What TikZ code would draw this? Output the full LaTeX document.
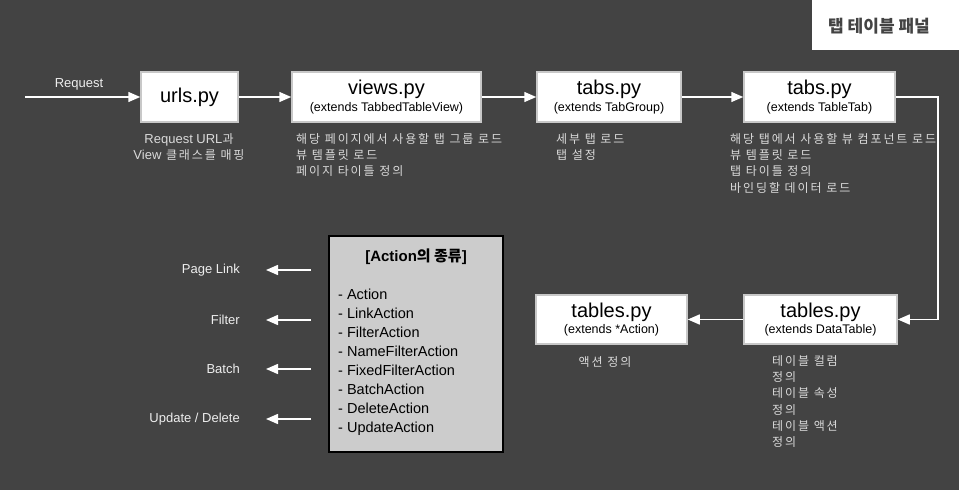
\documentclass[tikz,border=0pt]{standalone}
\usepackage{fontspec}
\setmainfont{Liberation Sans}
\newfontfamily\kr{Noto Sans CJK KR}
\newfontfamily\krw[LetterSpace=16]{Noto Sans CJK KR}
\usetikzlibrary{arrows.meta}
\definecolor{bg}{HTML}{434343}
\definecolor{boxline}{HTML}{C8C8C8}
\definecolor{desc}{HTML}{DADADA}
\definecolor{lbl}{HTML}{EEEEEE}
\definecolor{actfill}{HTML}{CCCCCC}
\begin{document}
\begin{tikzpicture}[x=1pt,y=-1pt,
  filebox/.style={draw=boxline,line width=1.5pt,fill=white,minimum height=50pt,inner sep=0pt,align=center,text=black},
  conn/.style={draw=white,line width=1.5pt,-{Triangle[length=12pt,width=10pt]}},
  desctext/.style={text=desc,font=\krw\fontsize{12}{16.3}\selectfont,align=left,inner sep=0pt},
  lbltext/.style={text=lbl,font=\fontsize{13}{15}\selectfont,inner sep=0pt},
]
\fill[bg] (0,0) rectangle (959,490);
\useasboundingbox (0,0) rectangle (959,490);
% title
\fill[white] (812,0) rectangle (959,50);
\node[text=bg,font=\kr\bfseries\fontsize{17}{20}\selectfont] (title) at (879,26) {탭 테이블 패널};

% boxes
\node[filebox,minimum width=97pt,font=\fontsize{20}{22}\selectfont] (urls) at (189.5,97) {urls.py};
\node[filebox,minimum width=189pt] (views) at (386.5,97) {{\fontsize{20}{22}\selectfont views.py}\\[2.5pt]{\fontsize{12.5}{14}\selectfont (extends TabbedTableView)}};
\node[filebox,minimum width=144pt] (tabgrp) at (609,97) {{\fontsize{20}{22}\selectfont tabs.py}\\[2.5pt]{\fontsize{12.5}{14}\selectfont (extends TabGroup)}};
\node[filebox,minimum width=151pt] (tabtab) at (819.5,97) {{\fontsize{20}{22}\selectfont tabs.py}\\[2.5pt]{\fontsize{12.5}{14}\selectfont (extends TableTab)}};
\node[filebox,minimum width=151pt,minimum height=49pt] (tblact) at (611.5,319.5) {{\fontsize{20}{22}\selectfont tables.py}\\[2.5pt]{\fontsize{12.5}{14}\selectfont (extends *Action)}};
\node[filebox,minimum width=153pt,minimum height=49pt] (tbldt) at (820.5,319.5) {{\fontsize{20}{22}\selectfont tables.py}\\[2.5pt]{\fontsize{12.5}{14}\selectfont (extends DataTable)}};

% action box
\node[draw=black,line width=1.5pt,fill=actfill,minimum width=174pt,minimum height=216pt,inner sep=0pt] (actbox) at (416,344) {};
\node[font=\bfseries\fontsize{15}{18}\selectfont,text=black,inner sep=0pt] (acthead) at (416,257) {[Action{\kr 의 종류}]};
\node[anchor=north west,align=left,text=black,font=\fontsize{14.5}{18.9}\selectfont,inner sep=0pt] (actlist) at (338,289)
{- Action\\- LinkAction\\- FilterAction\\- NameFilterAction\\- FixedFilterAction\\- BatchAction\\- DeleteAction\\- UpdateAction};

% request
\coordinate (reqstart) at (25,97);
\draw[conn] (reqstart) -- (urls.west);
\node[lbltext] (reqlbl) at (79,84) {Request};

% connectors
\draw[conn] (urls.east) -- (views.west);
\draw[conn] (views.east) -- (tabgrp.west);
\draw[conn] (tabgrp.east) -- (tabtab.west);
\draw[conn] (tabtab.east) -- (938,97) -- (938,319.5) -- (tbldt.east);
\draw[conn] (tbldt.west) -- (tblact.east);

% descriptions
\node[desctext,align=center,anchor=north] (d1) at (189,133) {{\fontspec{Liberation Sans}\fontsize{13}{16.3}\selectfont Request URL}과\\{\fontspec{Liberation Sans}\fontsize{13}{16.3}\selectfont View} 클래스를 매핑};
\node[desctext,anchor=north west] (d2) at (296,133) {해당 페이지에서 사용할 탭 그룹 로드\\뷰 템플릿 로드\\페이지 타이틀 정의};
\node[desctext,anchor=north west] (d3) at (556,133) {세부 탭 로드\\탭 설정};
\node[desctext,anchor=north west] (d4) at (730,133) {해당 탭에서 사용할 뷰 컴포넌트 로드\\뷰 템플릿 로드\\탭 타이틀 정의\\바인딩할 데이터 로드};
\node[desctext,anchor=north] (d5) at (605,356) {액션 정의};
\node[desctext,anchor=north west] (d6) at (772,355) {테이블 컬럼\\정의\\테이블 속성\\정의\\테이블 액션\\정의};

% left arrows
\foreach \yy/\nm/\tx in {270/pl/{Page Link},320/fl/{Filter},369/bt/{Batch},419/ud/{Update / Delete}}{
  \coordinate (\nm s) at (311,\yy);
  \coordinate (\nm e) at (266,\yy);
  \draw[conn] (\nm s) -- (\nm e);
  \node[lbltext,anchor=east] (\nm l) at (240,\yy) {\tx};
}
\end{tikzpicture}
\end{document}
